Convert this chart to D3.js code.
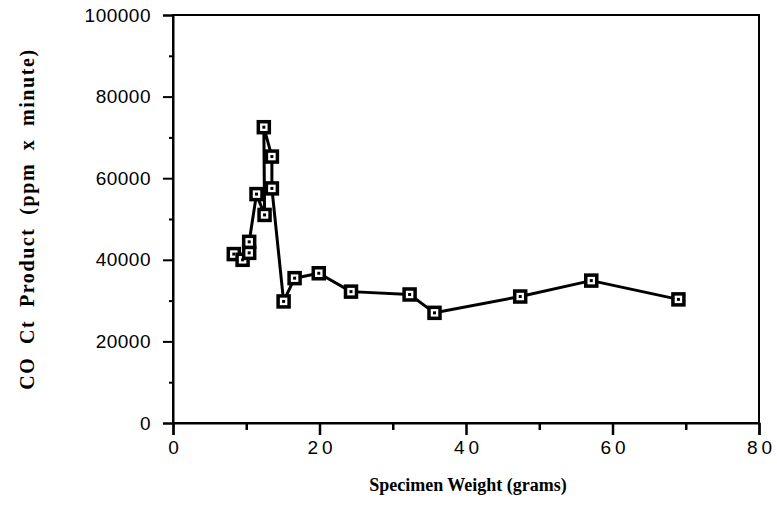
<!DOCTYPE html>
<html><head><meta charset="utf-8">
<script src="https://cdn.jsdelivr.net/npm/d3@7"></script>
<style>
html,body{margin:0;padding:0;background:#fff;}
svg{display:block;}
</style></head>
<body>
<svg id="chart" width="777" height="514"></svg>
<script>
const weights = [8.3, 9.5, 10.4, 10.4, 11.4, 12.5, 12.4, 13.5, 13.5, 15.1, 16.6, 19.9, 24.3, 32.3, 35.7, 47.4, 57.1, 69.0];
const ctValues = [41400, 40000, 41700, 44400, 56100, 51000, 72500, 65300, 57500, 29800, 35500, 36700, 32200, 31500, 27000, 31000, 34900, 30300];
const xTicks = [0, 20, 40, 60, 80];
const yTicks = [0, 20000, 40000, 60000, 80000, 100000];
const xMinor = [10, 30, 50, 70];
const yMinor = [10000, 30000, 50000, 70000, 90000];
const xTitle = "Specimen Weight (grams)";
const yTitle = "CO Ct Product (ppm x minute)";

const svg = d3.select("#chart");
const L = 173, R = 759, T = 15, B = 423;
const x = d3.scaleLinear().domain([0, 80]).range([L, R]);
const y = d3.scaleLinear().domain([0, 100000]).range([B, T]);

// frame
svg.append("rect").attr("x", L).attr("y", T).attr("width", R - L).attr("height", B - T)
  .attr("fill", "none").attr("stroke", "#000").attr("stroke-width", 2);

// x axis
const xAxis = d3.axisBottom(x).tickValues(xTicks).tickSize(12).tickPadding(6).tickFormat(d3.format("d"));
const gx = svg.append("g").attr("transform", `translate(0,${B})`).call(xAxis);
gx.select(".domain").attr("stroke-width", 2);
gx.selectAll(".tick line").attr("stroke-width", 2.5);
gx.selectAll(".tick text").attr("font-family", "Liberation Sans, Arial, sans-serif")
  .attr("font-size", 19).attr("fill", "#000").attr("letter-spacing", "4px").attr("dx", 2);
const gxm = svg.append("g").attr("transform", `translate(0,${B})`)
  .call(d3.axisBottom(x).tickValues(xMinor).tickSize(7).tickFormat(""));
gxm.select(".domain").remove();
gxm.selectAll(".tick line").attr("stroke-width", 2.5);

// y axis
const yAxis = d3.axisLeft(y).tickValues(yTicks).tickSize(10).tickPadding(12).tickFormat(d3.format("d"));
const gy = svg.append("g").attr("transform", `translate(${L},0)`).call(yAxis);
gy.select(".domain").attr("stroke-width", 2);
gy.selectAll(".tick line").attr("stroke-width", 2);
gy.selectAll(".tick text").attr("font-family", "Liberation Sans, Arial, sans-serif")
  .attr("font-size", 19).attr("fill", "#000").attr("letter-spacing", "0.5px");
const gym = svg.append("g").attr("transform", `translate(${L},0)`)
  .call(d3.axisLeft(y).tickValues(yMinor).tickSize(4).tickFormat(""));
gym.select(".domain").remove();
gym.selectAll(".tick line").attr("stroke-width", 2);

// titles
svg.append("text").attr("x", 468).attr("y", 491).attr("text-anchor", "middle")
  .attr("font-family", "Liberation Serif, Times New Roman, serif").attr("font-weight", "bold")
  .attr("font-size", 18).text(xTitle);
svg.append("text").attr("transform", "translate(34,219) rotate(-90)").attr("text-anchor", "middle")
  .attr("font-family", "Liberation Serif, Times New Roman, serif").attr("font-weight", "bold")
  .attr("font-size", 20).attr("letter-spacing", "1.6px").attr("word-spacing", "6px").text(yTitle);

// data
const data = weights.map((w, i) => ({w, v: ctValues[i]}));
const line = d3.line().x(d => x(d.w)).y(d => y(d.v));
svg.append("path").datum(data).attr("d", line).attr("fill", "none")
  .attr("stroke", "#000").attr("stroke-width", 3).attr("stroke-linejoin", "round");

const m = svg.append("g").selectAll("g").data(data).join("g")
  .attr("transform", d => `translate(${x(d.w)},${y(d.v)})`);
m.append("rect").attr("x", -5.5).attr("y", -5.5).attr("width", 11).attr("height", 11)
  .attr("fill", "#fff").attr("stroke", "#000").attr("stroke-width", 3.5);
m.append("rect").attr("x", -1.5).attr("y", -1.5).attr("width", 3).attr("height", 3).attr("fill", "#000");
</script>
</body></html>
